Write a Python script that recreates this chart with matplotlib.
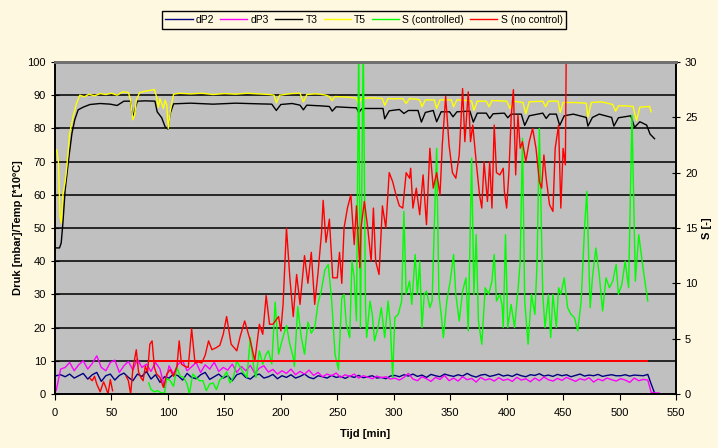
import numpy as np
import matplotlib
matplotlib.use("Agg")
import matplotlib.pyplot as plt

plt.rcParams['font.family'] = ['Liberation Sans', 'DejaVu Sans']

# ---------------- data ----------------
t_dp = list(range(1, 526, 4)) + [528, 531, 535]
dp2 = [5.5, 5.8, 5.2, 6.0, 4.8, 5.5, 6.2, 4.5, 5.8, 6.5, 3.8, 5.5, 6.0, 4.2, 5.6, 6.3, 5.0, 4.0, 6.0, 5.3, 6.8, 4.5, 5.8, 3.5, 5.2,
       4.8, 6.0, 5.5, 4.2, 6.2, 5.0, 4.6, 5.8, 6.5, 4.4, 5.2, 6.0, 4.8, 5.5, 4.0, 5.8, 6.3, 5.0, 4.5, 5.6, 6.0, 4.8, 5.2, 5.9, 4.6,
       5.5, 5.0, 5.8, 4.8, 5.3, 6.0, 5.0, 4.6, 5.5, 5.2, 4.8, 5.6, 5.0, 5.3, 4.7, 5.4, 5.0, 5.6, 4.9, 5.2, 5.5, 4.8, 5.0, 4.6, 5.4,
       5.6, 5.2, 5.8, 5.4, 6.0, 5.3, 5.7, 5.0, 5.9, 5.5, 5.2, 6.0, 5.6, 5.3, 5.8, 5.4, 6.2, 5.5, 5.1, 5.7, 5.9, 5.3, 5.6, 6.0, 5.4,
       5.7, 5.3, 6.0, 5.5, 5.2, 5.8, 5.6, 6.1, 5.4, 5.7, 5.3, 5.9, 5.5, 5.8, 5.2, 5.6, 6.0, 5.4, 5.7, 5.5, 5.9, 5.3, 5.6, 5.8, 5.5,
       5.5, 5.8, 5.4, 5.7, 5.6, 5.5, 5.9,
       3.0, 0.3, np.nan]
dp3 = [1.0, 7.5, 8.0, 9.5, 7.0, 8.8, 10.0, 7.5, 9.2, 11.5, 8.0, 7.0, 9.5, 10.2, 6.5, 8.5, 9.8, 7.2, 10.5, 8.0, 9.0, 6.8, 9.5, 7.5, 2.0,
       8.5, 6.0, 9.0, 10.0, 7.0, 8.2, 9.5, 6.5, 8.8, 7.5, 9.6, 6.8, 8.0, 7.2, 9.0, 6.5, 8.3, 7.0, 8.6, 6.2, 7.8, 8.5, 6.6, 7.4, 6.0,
       7.0, 6.2, 7.5, 5.8, 6.8, 6.0, 7.2, 5.6, 6.5, 5.2, 6.0, 5.5, 6.3, 5.0, 5.8, 5.3, 6.0, 4.8, 5.5, 5.1, 4.6, 5.4, 4.9, 5.2, 4.5,
       4.8, 4.2, 5.0, 6.2, 4.5, 4.0, 5.2, 4.6, 3.8, 5.0, 4.4, 5.6, 4.0, 4.8, 3.9, 5.2, 4.3, 4.7, 3.6, 5.0, 4.2, 4.6, 3.9, 4.9, 4.1,
       4.5, 3.8, 5.0, 4.2, 4.6, 3.7, 4.8, 4.0, 5.1, 4.3, 3.9, 4.7, 4.1, 5.0, 4.4, 3.8, 4.6, 4.2, 4.9, 3.6, 4.5, 4.0, 4.8, 4.3, 3.9,
       4.6, 4.2, 3.5, 4.8, 4.0, 4.4, 4.2,
       0.5, 0.3, 0.3]

t_t5 = [1.5, 3, 4.5, 5.5, 7, 9, 10.5, 13, 16, 19, 22, 26, 30, 35, 40, 45, 50, 55, 60, 65, 67, 69, 70.5, 72, 75, 80, 85, 88, 90,
        91.5, 93, 96, 97.5, 99, 100.3, 102, 105, 110, 120, 130, 140, 150, 160, 170, 180, 190, 194, 196, 199, 205, 210, 217,
        220, 223, 230, 235, 240, 243, 245.5, 248, 255, 260, 267, 269, 271, 280, 290, 292, 295, 300, 308, 311, 314, 320, 323,
        325, 328, 336, 338, 341, 351, 353, 356, 365, 369, 371, 374, 382, 384.5, 387, 400, 403, 406, 414.5, 417, 420, 432,
        434.5, 437, 445.5, 447.5, 450, 460, 470.5, 472, 475, 484, 494, 496.5, 499, 505, 512, 515, 518, 526.6, 528]
t5 = [73.5, 70, 53.4, 51.5, 60, 64, 68.5, 78.6, 83.5, 87.5, 90, 89.5, 90.3, 89.8, 90.5, 90.2, 90.6, 90.0, 91.0, 90.8, 88.5,
      82.6, 84, 88.5, 90.8, 91.2, 91.5, 91.7, 89.5, 86.3, 89, 86, 88.5, 87, 80, 85, 90.3, 90.6, 90.4, 90.6, 90.2, 90.5, 90.3,
      90.6, 90.4, 90.2, 90.0, 87.7, 90.0, 90.3, 90.5, 90.6, 88, 90.2, 90.4, 90.3, 90, 89.6, 88.4, 89.6, 89.5, 89.4, 89.1, 87.2,
      89.0, 89.2, 89.0, 86.9, 89.0, 88.9, 89.0, 87.5, 89.0, 88.8, 88.6, 86.5, 88.6, 88.6, 86.0, 88.6, 88.6, 86.5, 88.6, 88.4,
      88.2, 85.4, 88.2, 88.2, 86.5, 88.4, 88.2, 86.0, 88.2, 87.8, 84.4, 88.0, 88.2, 86.5, 88.2, 88.2, 84.8, 87.8, 87.8, 87.6,
      83.4, 87.8, 88.0, 87.2, 85.2, 86.8, 86.8, 86.6, 82.4, 86.4, 86.6, 85.0]

t_t3 = [0.5, 4, 5.5, 7, 9, 12, 15, 17.5, 20.5, 25, 31, 40, 49, 55, 61, 67, 69, 71, 73, 80, 88.5, 90.5, 94.5, 97.5, 100, 102,
        105, 120, 140, 160, 180, 192, 196, 200, 210, 217, 220, 223, 235, 243, 245.5, 249, 260, 267, 269, 272, 285, 290.5, 292,
        296, 305, 309, 313, 321.5, 324.5, 328, 335, 338, 342, 349.5, 352.5, 356, 367.5, 370.5, 374, 382, 385, 388, 398, 401,
        404, 413, 416, 420, 432, 435, 438, 444, 447, 451, 459, 470.5, 472, 476, 482, 493, 495, 499, 510, 513.3, 518, 524, 527, 531]
t3 = [44, 44, 45.5, 51.5, 61.5, 70.5, 78.5, 82.6, 85.6, 86.4, 87.2, 87.5, 87.3, 86.9, 88.2, 88.2, 83.2, 86, 88.2, 88.3, 88.2,
      85, 83.2, 80.5, 79.8, 84.5, 87.4, 87.6, 87.3, 87.6, 87.4, 87.3, 85.4, 87.2, 87.5, 87.0, 85.6, 87.0, 86.8, 86.6, 85.2,
      86.5, 86.3, 86.2, 84.8, 86.0, 86.0, 86.0, 82.9, 85.3, 85.7, 84.5, 85.4, 85.4, 81.9, 84.8, 85.4, 82.0, 85.0, 85.0, 83.5,
      85.0, 85.2, 81.9, 84.6, 84.6, 83.0, 84.4, 84.6, 83.2, 84.3, 84.3, 80.9, 83.8, 84.6, 83.0, 84.3, 84.3, 80.9, 83.8, 84.3,
      83.3, 80.7, 83.3, 84.3, 83.3, 80.7, 83.2, 83.8, 80.3, 82.0, 81.0, 78.3, 76.9]

t_sc = [83, 85, 88, 91, 94, 97, 99, 102, 105, 108, 111, 114, 117, 119, 122, 125, 128, 131, 134, 137, 140, 143, 146, 149, 152,
        155, 158, 161, 164, 167, 170, 173, 176, 178, 181, 184, 187, 189, 192, 195, 198, 201, 203, 205, 208, 211, 212, 215, 218,
        221, 224, 227, 230, 233, 236, 239, 242, 245, 248, 251, 254, 256, 258, 261, 263, 265, 267, 269, 270.5, 273, 275, 276,
        279, 281, 283, 286, 289, 292, 295, 297, 299, 301, 304, 307, 309, 311, 314, 316, 319, 321, 323, 325, 327, 329, 332, 334,
        338, 340, 342, 344, 347, 350, 353, 355, 358, 361, 364, 366, 369, 371, 373, 375, 378, 381, 384, 387, 389, 391, 394, 396,
        397, 399, 401, 404, 407, 410, 412, 414, 416, 419, 422, 425, 427, 429, 432, 434, 437, 439, 441, 444, 446, 448, 451, 454,
        457, 460, 463, 466, 469, 471, 474, 476, 479, 482, 485, 488, 491, 494, 497, 499, 502, 505, 508, 511, 514, 517, 520, 522, 525]
s_controlled = [1.0, 0.4, 0.2, 0.3, 0.1, 0.1, 1.4, 1.2, 0.7, 2.4, 1.6, 1.5, 0.9, 0.0, 1.8, 1.5, 1.2, 1.2, 0.3, 0.9, 1.0, 0.4,
                1.3, 1.5, 2.0, 1.0, 1.5, 3.0, 2.4, 1.9, 1.5, 5.1, 2.4, 1.5, 3.9, 2.7, 3.6, 3.9, 2.7, 8.3, 3.6, 4.8, 5.5, 6.2,
                4.5, 3.3, 2.5, 7.9, 5.2, 3.6, 6.5, 5.5, 6.0, 8.2, 9.4, 11.2, 11.7, 8.5, 3.6, 2.2, 8.7, 9.0, 6.3, 5.1, 12.0,
                10.5, 6.6, 32, 6.0, 32, 8.0, 5.1, 8.4, 7.2, 4.8, 6.0, 7.8, 5.1, 8.4, 6.3, 1.5, 6.9, 7.2, 8.4, 16.5, 9.0, 10.2,
                8.1, 12.6, 9.0, 12.0, 6.0, 9.0, 9.3, 7.8, 8.4, 22.2, 9.0, 7.2, 5.1, 8.4, 10.2, 12.6, 9.0, 6.6, 9.3, 10.5, 5.7,
                21.3, 9.0, 14.4, 6.6, 4.5, 9.6, 9.0, 10.2, 12.6, 8.4, 9.0, 8.0, 6.0, 14.4, 6.0, 8.1, 6.0, 9.3, 12.0, 23.1, 8.4,
                4.5, 9.0, 7.2, 12.0, 24.0, 9.0, 6.0, 9.0, 5.1, 9.0, 6.0, 9.6, 9.0, 10.5, 7.8, 7.2, 6.9, 5.7, 8.4, 15.0, 18.3,
                7.8, 10.5, 13.2, 10.8, 7.5, 10.5, 9.6, 10.2, 11.7, 9.0, 9.9, 12.0, 9.6, 25.2, 10.2, 14.4, 12.0, 10.5, 8.4]

t_snc = [31, 33, 35, 37, 40, 43, 45, 47, 49, 51, 55, 63, 65, 67, 69, 72, 74, 76, 78, 80, 82, 84, 86, 88, 90, 93, 96, 99, 102,
         105, 108, 110, 112, 115, 118, 121, 124, 127, 130, 133, 136, 139, 143, 146, 149, 152, 156, 161, 164, 168, 173, 177,
         181, 184, 187, 190, 193, 198, 200, 202, 205, 208, 211, 214, 217, 221, 224, 227, 230, 233, 236, 237.5, 240, 243, 246,
         250, 252, 254, 256, 259, 262, 265, 267, 270, 271, 274, 277, 280, 282, 284, 287, 290, 293, 296, 299, 302, 305, 308,
         311, 314, 315, 317, 320, 323, 326, 329, 332, 335, 338, 341, 343, 346, 349, 352, 355, 358, 361, 363, 366, 368, 370,
         373, 376, 378, 380, 383, 385, 387, 389, 391, 394, 397, 398, 400, 402, 404, 406, 408, 410, 412, 414, 417, 420, 423,
         426, 429, 431, 433, 435, 438, 441, 443, 446, 448, 450, 452, 453.5]
s_no_control = [1.4, 1.2, 1.6, 0.9, 0.2, 1.1, 0.6, 0.0, 1.3, 0.3, np.nan, 1.6, 1.2, 0.0, 2.3, 4.0, 2.0, 1.5, 1.2, 2.5, 2.0,
                4.5, 4.8, 2.4, 1.8, 1.5, 0.6, 1.8, 2.2, 1.6, 2.5, 4.8, 2.7, 2.5, 2.4, 5.9, 2.8, 2.9, 2.8, 3.5, 4.8, 4.0,
                4.2, 4.4, 5.4, 7.0, 4.5, 3.9, 5.2, 6.6, 4.8, 3.0, 6.3, 5.4, 8.9, 6.3, 6.3, 7.0, 5.7, 8.1, 15.0, 10.5, 7.0,
                10.8, 8.1, 12.5, 10.0, 12.8, 8.1, 11.0, 14.5, 17.5, 13.7, 15.8, 10.5, 10.5, 12.8, 10.0, 15.0, 16.8, 18.0,
                13.5, 17.0, 11.4, 15.0, 17.4, 15.0, 12.0, 16.8, 12.0, 10.8, 17.0, 15.0, 20.0, 19.2, 18.0, 17.0, 16.8, 20.0,
                19.5, 20.4, 16.8, 18.6, 16.2, 19.8, 15.3, 22.2, 18.6, 20.0, 18.0, 22.5, 26.9, 22.5, 20.0, 19.5, 21.6, 27.6,
                22.8, 27.3, 22.8, 24.3, 21.0, 18.0, 16.8, 21.0, 17.4, 21.0, 16.8, 24.3, 20.0, 19.8, 20.4, 18.3, 16.8, 20.0,
                25.0, 27.5, 19.8, 25.2, 22.2, 22.8, 21.0, 22.8, 24.0, 22.2, 19.2, 18.6, 21.6, 19.5, 17.1, 16.5, 22.2, 24.3,
                16.8, 22.2, 20.7, 40.0]

t_limit = [83, 524]
s_limit = [3, 3]

x_ticks = list(range(0, 551, 50))
y_left_ticks = list(range(0, 101, 10))
y_right_ticks = list(range(0, 31, 5))

# ---------------- figure ----------------
bg = '#FFF8E0'
fig = plt.figure(figsize=(7.18, 4.48), dpi=100, facecolor=bg)
ax = fig.add_axes([55/718, 1-394/448, (676-55)/718, (394-62)/448])
ax.set_facecolor('#C0C0C0')
ax2 = ax.twinx()
ax2.patch.set_visible(False)

lw = 1.0
l1, = ax.plot(t_dp, dp2, color='#000080', lw=lw, label='dP2')
l2, = ax.plot(t_dp, dp3, color='#FF00FF', lw=lw, label='dP3')
l3, = ax.plot(t_t3, t3, color='black', lw=lw, label='T3')
l4, = ax.plot(t_t5, t5, color='#FFFF00', lw=lw, label='T5')
l5, = ax2.plot(t_sc, s_controlled, color='#00FF00', lw=lw, label='S (controlled)')
l6, = ax2.plot(t_snc, s_no_control, color='#FF0000', lw=lw, label='S (no control)')
ax2.plot(t_limit, s_limit, color='#FF0000', lw=1.4)

ax.set_xlim(0, 550)
ax.set_ylim(0, 100)
ax2.set_ylim(0, 30)
ax.set_xticks(x_ticks)
ax.set_yticks(y_left_ticks)
ax2.set_yticks(y_right_ticks)

for y in y_left_ticks[1:-1]:
    ax.axhline(y, color='#1a1a1a', lw=1.3, zorder=0.5)

fs = 8
ax.tick_params(axis='x', direction='out', length=4, labelsize=fs, pad=6)
ax.tick_params(axis='y', direction='inout', length=6, labelsize=fs)
ax2.tick_params(axis='y', direction='inout', length=6, labelsize=fs)

for a in (ax, ax2):
    a.spines['top'].set_color('#707070')
    a.spines['top'].set_linewidth(2)
    a.spines['left'].set_linewidth(1.2)
    a.spines['right'].set_linewidth(1.2)
    a.spines['bottom'].set_linewidth(1.2)

ax.set_xlabel('Tijd [min]', fontsize=fs, fontweight='bold', labelpad=8)
ax.set_ylabel('Druk [mbar]/Temp [*10ºC]', fontsize=fs, fontweight='bold', labelpad=3)
ax2.set_ylabel('S [-]', fontsize=fs, fontweight='bold', rotation=90, labelpad=3)

leg = fig.legend(handles=[l1, l2, l3, l4, l5, l6], loc='center', bbox_to_anchor=(364/718, 1-20/448),
                 ncol=6, fontsize=7.5, frameon=True, fancybox=False, edgecolor='black', facecolor=bg,
                 handlelength=2.6, handletextpad=0.3, columnspacing=0.6, borderpad=0.35)
leg.get_frame().set_linewidth(1.0)
leg.get_frame().set_alpha(1)

fig.savefig('out.png', dpi=100, facecolor=bg)
